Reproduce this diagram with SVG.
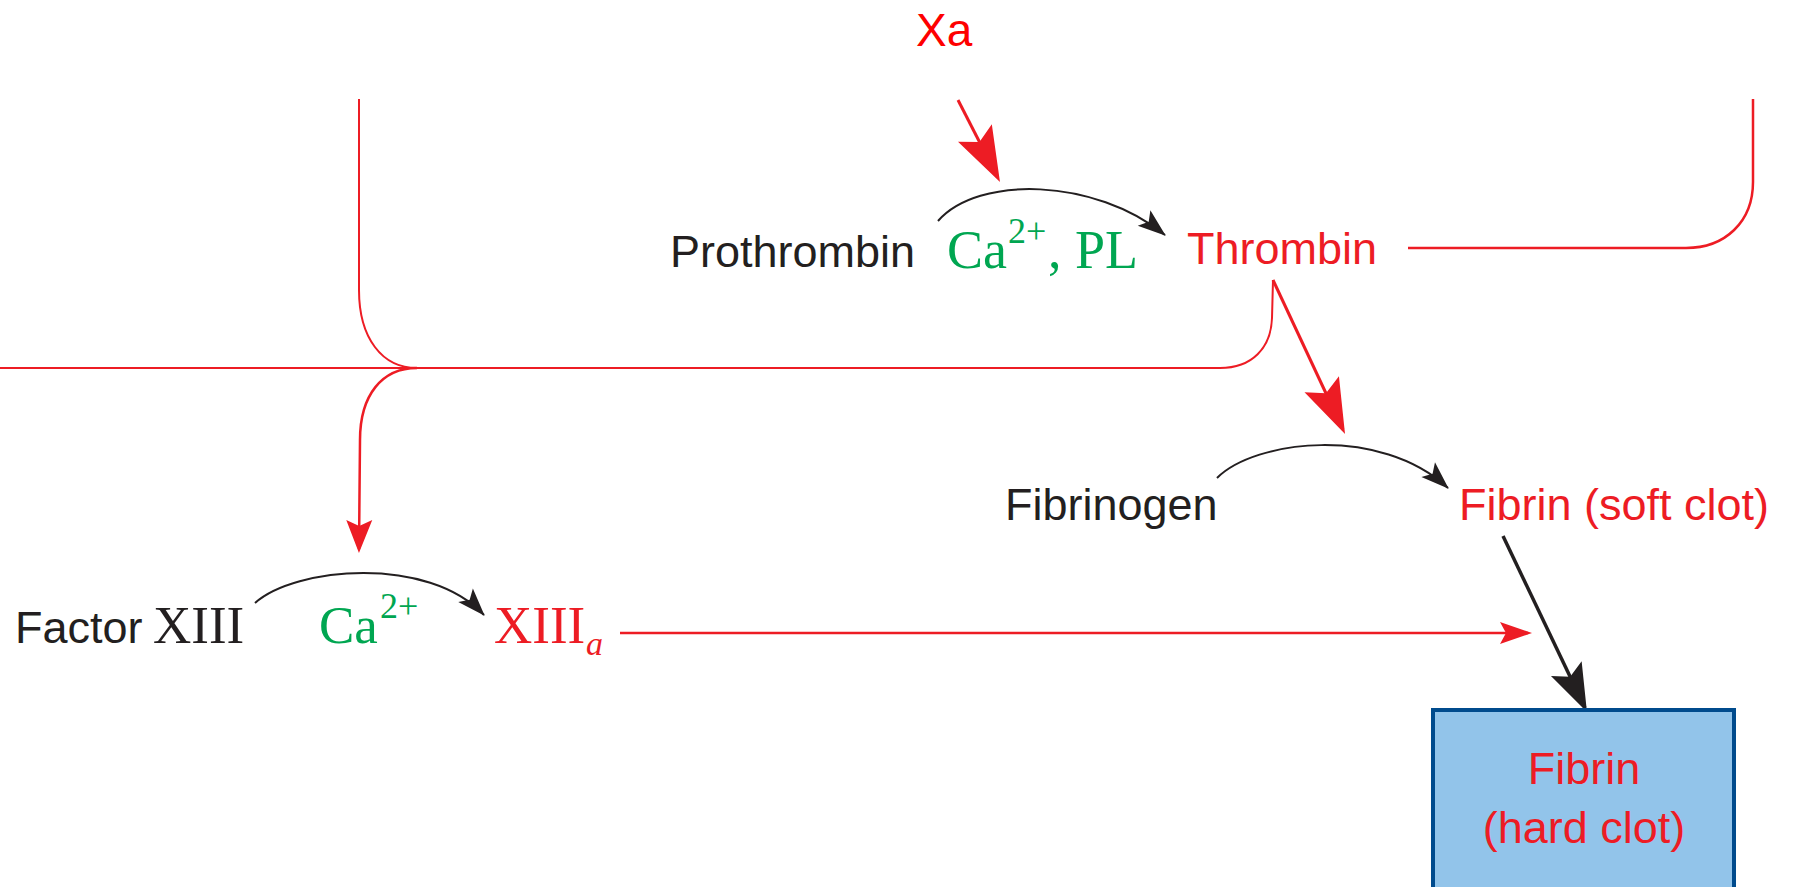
<svg xmlns="http://www.w3.org/2000/svg" width="1796" height="887" viewBox="0 0 1796 887">
<style>
.sans{font-family:"Liberation Sans",Arial,sans-serif;font-size:45px}
.serif{font-family:"Liberation Serif","Times New Roman",serif}
.blk{fill:#231f20}
.red{fill:#ed1c24}
.grn{fill:#00a651}
.rl{fill:none;stroke:#ed1c24}
.bl{fill:none;stroke:#231f20}
</style>
<defs>
<marker id="arRedBig" markerUnits="userSpaceOnUse" orient="auto" viewBox="-60 -30 80 60" markerWidth="80" markerHeight="60" refX="0" refY="0">
<path d="M5,0 L-50,-19 L-40,0 L-50,19 Z" fill="#ed1c24"/>
</marker>
<marker id="arBlackBig" markerUnits="userSpaceOnUse" orient="auto" viewBox="-60 -30 80 60" markerWidth="80" markerHeight="60" refX="0" refY="0">
<path d="M5,0 L-43,-17 L-34,0 L-43,17 Z" fill="#231f20"/>
</marker>
<marker id="arRedSmall" markerUnits="userSpaceOnUse" orient="auto" viewBox="-40 -20 60 40" markerWidth="60" markerHeight="40" refX="0" refY="0">
<path d="M4,0 L-28,-11 L-22,0 L-28,11 Z" fill="#ed1c24"/>
</marker>
<marker id="arRedDown" markerUnits="userSpaceOnUse" orient="auto" viewBox="-40 -20 60 40" markerWidth="60" markerHeight="40" refX="0" refY="0">
<path d="M4,0 L-29,-13 L-23,0 L-29,13 Z" fill="#ed1c24"/>
</marker>
<marker id="arBlackSmall" markerUnits="userSpaceOnUse" orient="auto" viewBox="-40 -20 60 40" markerWidth="60" markerHeight="40" refX="0" refY="0">
<path d="M1,0 L-27,-10 L-21,0 L-27,10 Z" fill="#231f20"/>
</marker>
</defs>
<rect width="1796" height="887" fill="#ffffff"/>

<g id="connectors">
  <path class="rl" stroke-width="3" d="M958,100 L997.7,177.5" marker-end="url(#arRedBig)"/>
  <path class="bl" stroke-width="2" d="M938,221 C978,175 1095,178 1165,235" marker-end="url(#arBlackSmall)"/>
  <path class="rl" stroke-width="2.5" d="M1408,248 L1686,248 C1725,248 1753,222 1753,182 L1753,99"/>
  <path class="rl" stroke-width="2" d="M359,99 L359,290 C359,338 382,368 417,368"/>
  <path class="rl" stroke-width="2" d="M0,368 L1220,368 C1252,368 1271,348 1272,318 L1273,280"/>
  <path class="rl" stroke-width="2.5" d="M417,368 C382,368 360,395 360,440 L359,549" marker-end="url(#arRedDown)"/>
  <path class="rl" stroke-width="3" d="M1273,280 L1342.9,429.5" marker-end="url(#arRedBig)"/>
  <path class="bl" stroke-width="2" d="M1217,478 C1255,440 1380,425 1448,488" marker-end="url(#arBlackSmall)"/>
  <path class="bl" stroke-width="2" d="M255,603 C295,567 428,555 484,615" marker-end="url(#arBlackSmall)"/>
  <path class="rl" stroke-width="2.5" d="M620,633 L1528,633" marker-end="url(#arRedSmall)"/>
  <path class="bl" stroke-width="3.5" d="M1503,536 L1584.8,707.5" marker-end="url(#arBlackBig)"/>
</g>

<g id="xa">
  <text x="916" y="46" font-family="Liberation Sans, Arial, sans-serif" font-size="46" fill="#fe0000">Xa</text>
</g>
<g id="prothrombin">
  <text class="sans blk" x="670" y="267" font-size="46">Prothrombin</text>
</g>
<g id="ca-pl">
  <text class="serif grn" y="268" font-size="54"><tspan x="947">Ca</tspan><tspan x="1008" y="243" font-size="36">2+</tspan><tspan x="1048" y="268">, PL</tspan></text>
</g>
<g id="thrombin">
  <text class="sans red" x="1187" y="264">Thrombin</text>
</g>
<g id="fibrinogen">
  <text class="sans blk" x="1005" y="520">Fibrinogen</text>
</g>
<g id="fibrin-soft">
  <text class="sans red" x="1459" y="520" font-size="46">Fibrin (soft clot)</text>
</g>
<g id="factor-xiii">
  <text class="blk" y="643"><tspan class="sans" x="15" font-size="44">Factor</tspan><tspan class="serif" x="153" font-size="53">XIII</tspan></text>
</g>
<g id="ca2">
  <text class="serif grn" y="643" font-size="53"><tspan x="319">Ca</tspan><tspan x="380" y="618" font-size="36">2+</tspan></text>
</g>
<g id="xiiia">
  <text class="serif red" y="643" font-size="53"><tspan x="494">XIII</tspan><tspan x="586" y="655" font-size="34" font-style="italic">a</tspan></text>
</g>
<g id="fibrin-hard">
  <rect x="1433" y="710" width="301" height="200" fill="#92c4ea" stroke="#004b8d" stroke-width="4"/>
  <text class="sans red" x="1584" y="784" text-anchor="middle" font-size="44">Fibrin</text>
  <text class="sans red" x="1584" y="843" text-anchor="middle" font-size="44">(hard clot)</text>
</g>
</svg>
